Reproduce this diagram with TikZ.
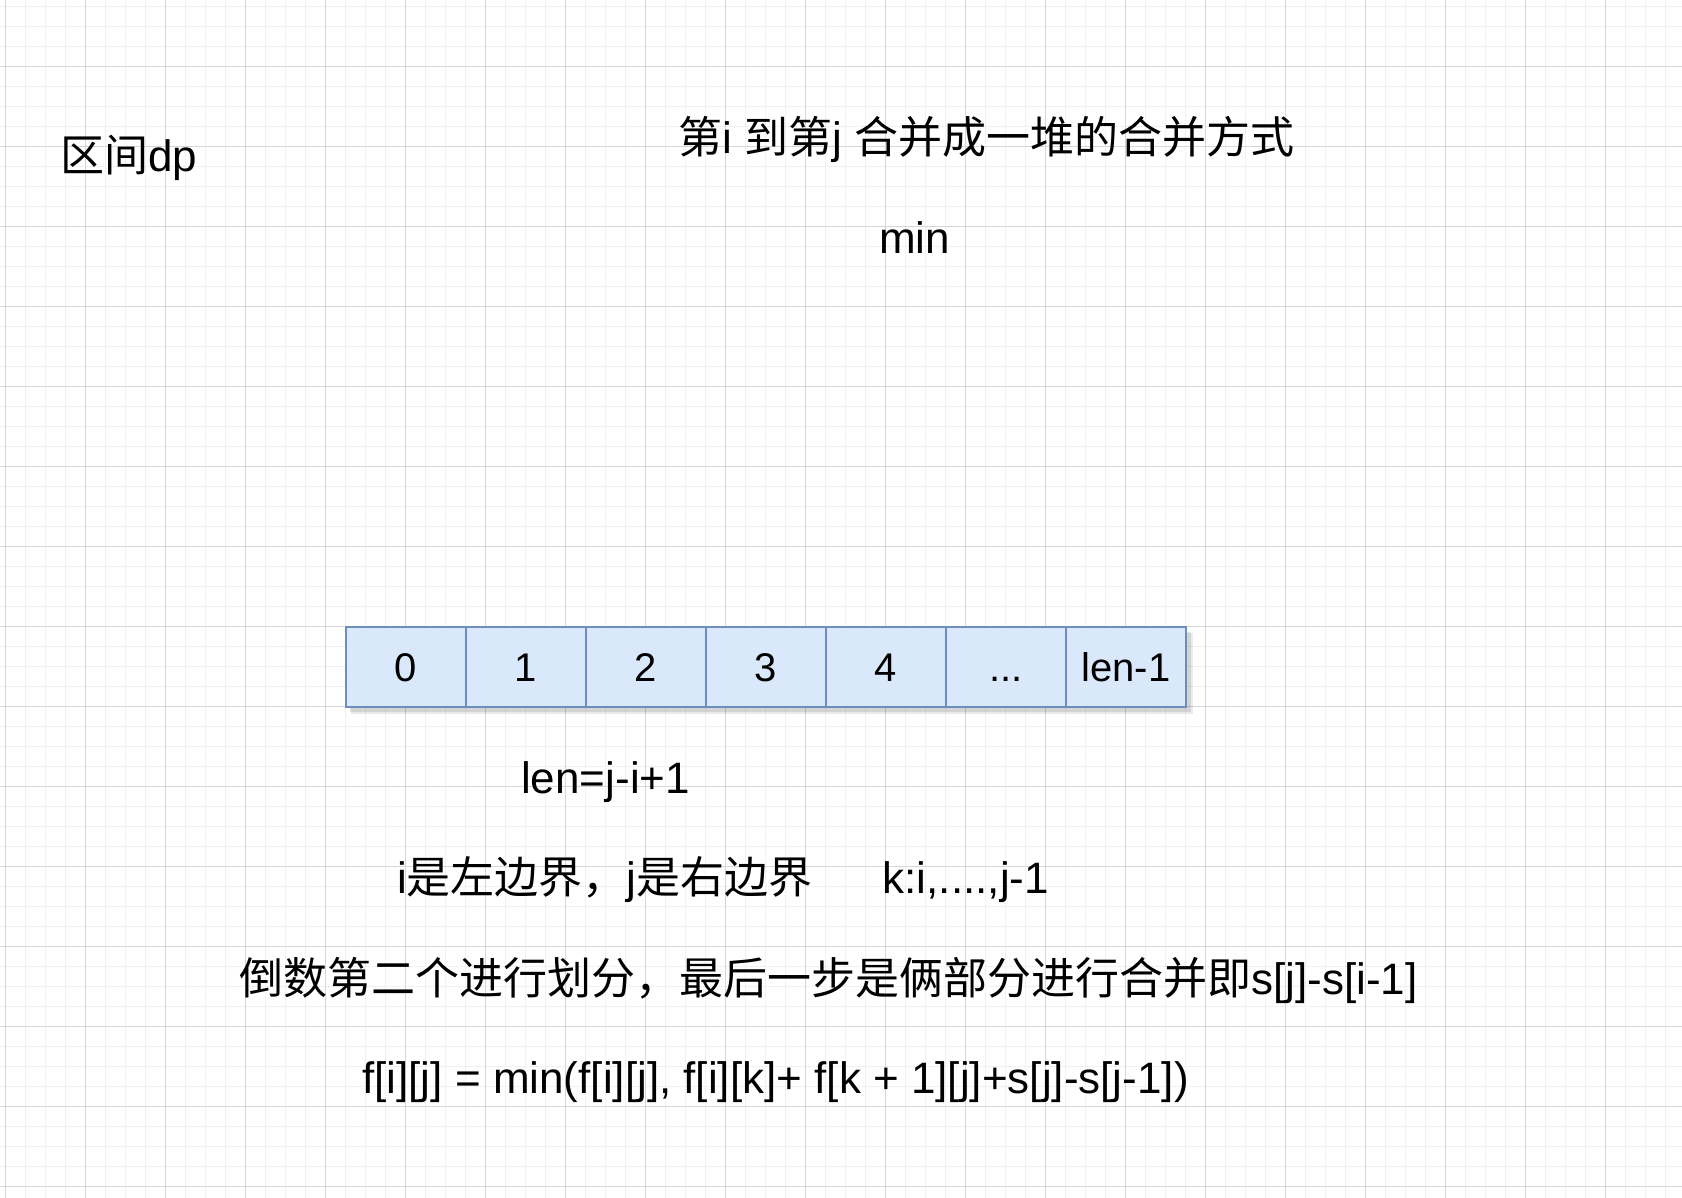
\documentclass[tikz,border=0pt]{standalone}
\usepackage{fontspec}
\setmainfont{Liberation Sans}
\newfontfamily\cjk{Noto Sans CJK SC}
\definecolor{gridminor}{HTML}{F1F1F1}
\definecolor{gridmajor}{HTML}{D6D6D6}
\definecolor{cellfill}{HTML}{DAE8FC}
\definecolor{celldraw}{HTML}{6C8EBF}
\begin{document}
\begin{tikzpicture}[x=1pt,y=-1pt,
  txt/.style={anchor=base west, inner sep=0pt, font=\fontsize{44}{52}\selectfont},
  cell/.style={draw=celldraw, fill=cellfill, line width=1.5pt, minimum width=120pt,
    minimum height=80pt, inner sep=0pt, text height=29pt, text depth=0pt,
    font=\fontsize{40}{48}\selectfont},
  minorline/.style={draw=gridminor, line width=1pt},
  majorline/.style={draw=gridmajor, line width=1pt}]
\useasboundingbox (0,0) rectangle (1682,1198);
\fill[white] (0,0) rectangle (1682,1198);
% grid
\foreach \i in {0,...,83} \draw[minorline] ({5+20*\i},0) -- ({5+20*\i},1198);
\foreach \i in {0,...,59} \draw[minorline] (0,{6.67+20*\i}) -- (1682,{6.67+20*\i});
\foreach \i in {0,...,20} \draw[majorline] ({5+80*\i},0) -- ({5+80*\i},1198);
\foreach \i in {0,...,14} \draw[majorline] (0,{66.67+80*\i}) -- (1682,{66.67+80*\i});
% shadow of the array
\fill[black, opacity=0.10] (350,632) rectangle (1191,712);
\fill[black, opacity=0.08] (351,633) rectangle (1193,714);
% array cells
\node[cell] (c0) at (406,667) {0};
\node[cell] (c1) at (526,667) {1};
\node[cell] (c2) at (646,667) {2};
\node[cell] (c3) at (766,667) {3};
\node[cell] (c4) at (886,667) {4};
\node[cell] (c5) at (1006,667) {...};
\node[cell] (c6) at (1126,667) {len-1};
% texts
\node[txt] (t0) at (60,172) {{\cjk 区间}dp};
\node[txt] (t1) at (678,154) {{\cjk 第}i {\cjk 到第}j {\cjk 合并成一堆的合并方式}};
\node[txt] (t2) at (879,254) {min};
\node[txt] (t3) at (521,793) {len=j-i+1};
\node[txt] (t4) at (397,893) {i{\cjk 是左边界，}j{\cjk 是右边界}\hspace{70pt}k:i,....,j-1};
\node[txt] (t5) at (239,994) {{\cjk 倒数第二个进行划分，最后一步是俩部分进行合并即}s[j]-s[i-1]};
\node[txt] (t6) at (362,1093) {f[i][j] = min(f[i][j], f[i][k]+ f[k + 1][j]+s[j]-s[j-1])};
\end{tikzpicture}
\end{document}
